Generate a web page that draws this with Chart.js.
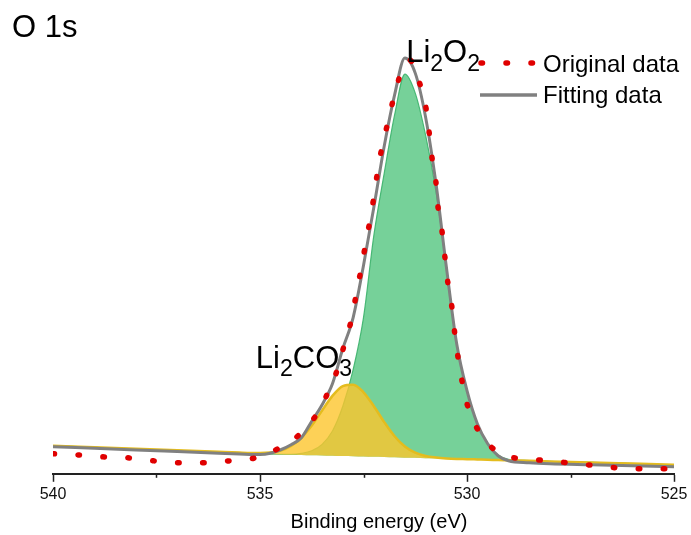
<!DOCTYPE html>
<html>
<head>
<meta charset="utf-8">
<script src="https://cdn.jsdelivr.net/npm/chart.js@4.4.1/dist/chart.umd.min.js"></script>
<style>
  html, body { margin: 0; padding: 0; background: #fff; }
  canvas { display: block; }
</style>
</head>
<body>
<canvas id="xps" width="691" height="535"></canvas>
<script>
// O 1s XPS spectrum, intensity in arbitrary units
const energy = [540, 539, 538, 537, 536, 535.5, 535, 534.75, 534.5, 534.25, 534, 533.75, 533.5, 533.25, 533,
  532.75, 532.5, 532.25, 532, 531.75, 531.5, 531.25, 531, 530.75, 530.5, 530.25, 530, 529.75, 529.5, 529.25,
  529, 528.5, 528, 527, 526, 525];

const background = [28, 26.5, 25, 23.4, 21.9, 21.1, 20.3, 19.8, 19.3, 19.0, 18.8, 18.5, 18.3, 18.0, 17.7,
  17.5, 17.2, 16.9, 16.7, 16.4, 16.1, 15.9, 15.6, 15.4, 15.1, 14.8, 14.6, 14.3, 14.0, 13.8,
  13.5, 13.0, 12.4, 11.4, 10.2, 9];

const li2o2 = [28, 26.5, 25, 23.4, 21.9, 21.1, 20.3, 19.8, 19.5, 19.5, 20.4, 23, 29.4, 42.7, 67.4,
  104, 156, 238, 300, 358, 399, 380, 338, 282, 207, 131, 82, 50, 30, 18.8,
  14.5, 13.3, 12.4, 11.4, 10.2, 9];

const li2co3 = [28, 26.5, 25, 23.4, 21.9, 21.2, 20.8, 21.3, 23.1, 27.7, 35.9, 48.1, 63.2, 77.8, 87.6,
  89, 81.4, 67.5, 51.6, 37.5, 27.3, 21.1, 17.7, 16.2, 15.3, 14.8, 14.6, 14.3, 14.0, 13.8,
  13.5, 13.0, 12.4, 11.4, 10.2, 9];

const fitting = [27, 25.4, 23.8, 22.2, 20.6, 19.8, 19.2, 20.5, 24, 29, 36, 52.5, 69, 90, 125,
  156, 208, 266, 327, 378, 415, 400, 356, 290, 207, 130, 83, 50, 30, 18,
  13, 11, 10, 9, 8, 7];

// measured points (red dots)
const origEnergy = [540, 539.44, 538.82, 538.21, 537.58, 536.96, 536.35, 535.72, 535.1, 534.57, 534.08, 533.62,
  533.36, 533.14, 532.95, 532.78, 532.66, 532.54, 532.44, 532.32, 532.22, 532.13, 532.0, 531.86, 531.71,
  531.52, 531.38, 531.18, 531.01, 530.92, 530.85, 530.75, 530.7, 530.6, 530.53, 530.46, 530.36, 530.29,
  530.1, 529.95, 529.69, 529.2, 528.6, 527.97, 527.4, 526.8, 526.11, 525.51, 525];
const origCounts = [20, 19, 17, 16, 13, 11, 11, 13, 16, 25, 38, 60,
  81, 103, 131, 156, 183, 208, 232, 258, 285, 310, 335, 360, 385,
  408, 413, 394, 370, 343, 317, 291, 266, 241, 215, 190, 165, 138,
  88, 63, 41, 20, 15, 13, 10, 8, 5, 5, 5];

const majorTicks = [540, 535, 530, 525];
const minorTicks = [537.5, 532.5, 527.5];

const FONT = "'Liberation Sans', Arial, Helvetica, sans-serif";
Chart.defaults.font.family = FONT;

const pts = (xs, ys) => xs.map((x, i) => ({ x: x, y: ys[i] }));

// draws text like Li2O2 where odd parts are subscripts
function drawFormula(ctx, parts, x, y, size) {
  let cx = x;
  parts.forEach((p, i) => {
    const sub = i % 2 === 1;
    ctx.font = (sub ? Math.round(size * 0.75) : size) + 'px ' + FONT;
    ctx.fillText(p, cx, sub ? y + size * 0.28 : y);
    cx += ctx.measureText(p).width;
  });
}

const annotations = {
  id: 'annotations',
  afterDraw(chart) {
    const { ctx, chartArea, scales: { x, y } } = chart;
    ctx.save();

    // short minor ticks
    ctx.strokeStyle = '#222';
    ctx.lineWidth = 1.5;
    minorTicks.forEach(v => {
      const px = Math.round(x.getPixelForValue(v)) + 0.5;
      ctx.beginPath();
      ctx.moveTo(px, chartArea.bottom);
      ctx.lineTo(px, chartArea.bottom + 4);
      ctx.stroke();
    });

    ctx.fillStyle = '#000';
    ctx.textBaseline = 'alphabetic';
    ctx.textAlign = 'left';
    ctx.font = '31px ' + FONT;
    ctx.fillText('O 1s', 12, 37);

    drawFormula(ctx, ['Li', '2', 'O', '2'], x.getPixelForValue(531.47), y.getPixelForValue(411), 31);
    drawFormula(ctx, ['Li', '2', 'CO', '3'], x.getPixelForValue(535.1), y.getPixelForValue(106), 31);

    // legend
    ctx.strokeStyle = '#e00000';
    ctx.lineWidth = 5.5;
    ctx.lineCap = 'round';
    ctx.setLineDash([1.5, 23.5]);
    ctx.beginPath();
    ctx.moveTo(481, 63);
    ctx.lineTo(536, 63);
    ctx.stroke();
    ctx.setLineDash([]);
    ctx.lineCap = 'butt';
    ctx.strokeStyle = '#808080';
    ctx.lineWidth = 3.5;
    ctx.beginPath();
    ctx.moveTo(480, 95);
    ctx.lineTo(537, 95);
    ctx.stroke();

    ctx.font = '24px ' + FONT;
    ctx.textBaseline = 'middle';
    ctx.fillText('Original data', 543, 65);
    ctx.fillText('Fitting data', 543, 96);

    ctx.font = '20px ' + FONT;
    ctx.textAlign = 'center';
    ctx.textBaseline = 'alphabetic';
    ctx.fillText('Binding energy (eV)', 379, 528);
    ctx.restore();
  }
};

new Chart(document.getElementById('xps'), {
  type: 'line',
  data: {
    datasets: [
      {
        label: 'Background',
        data: pts(energy, background),
        borderWidth: 0,
        fill: false,
        order: 5
      },
      {
        label: 'Li2O2',
        data: pts(energy, li2o2),
        borderColor: 'rgba(60,178,108,0.9)',
        borderWidth: 1.2,
        backgroundColor: 'rgba(60,190,110,0.7)',
        fill: { target: 0 },
        order: 4
      },
      {
        label: 'Li2CO3',
        data: pts(energy, li2co3),
        borderColor: 'rgb(228,188,30)',
        borderWidth: 2.5,
        backgroundColor: 'rgba(252,198,45,0.8)',
        fill: { target: 0 },
        order: 3
      },
      {
        label: 'Fitting data',
        data: pts(energy, fitting),
        borderColor: '#808080',
        borderWidth: 3,
        fill: false,
        order: 2
      },
      {
        label: 'Original data',
        data: pts(origEnergy, origCounts),
        borderColor: '#e00000',
        borderWidth: 5.5,
        borderDash: [1.5, 23.5],
        borderCapStyle: 'round',
        fill: false,
        order: 1
      }
    ]
  },
  options: {
    responsive: false,
    animation: false,
    devicePixelRatio: 1,
    layout: { padding: { left: 53, right: 17, top: 0, bottom: 28 } },
    elements: {
      point: { radius: 0 },
      line: { cubicInterpolationMode: 'monotone' }
    },
    plugins: {
      legend: { display: false },
      tooltip: { enabled: false }
    },
    scales: {
      x: {
        type: 'linear',
        reverse: true,
        min: 525,
        max: 540,
        grid: {
          drawOnChartArea: false,
          drawTicks: true,
          tickLength: 8,
          tickWidth: 1.5,
          tickColor: c => (c.tick && majorTicks.includes(c.tick.value)) ? '#222' : 'rgba(0,0,0,0)'
        },
        border: { display: true, color: '#222', width: 2 },
        ticks: {
          stepSize: 2.5,
          autoSkip: false,
          maxRotation: 0,
          padding: 3,
          color: '#111',
          font: { size: 16 },
          callback: v => majorTicks.includes(v) ? v : ''
        }
      },
      y: {
        display: false,
        min: 0,
        max: 473
      }
    }
  },
  plugins: [annotations]
});
</script>
</body>
</html>
